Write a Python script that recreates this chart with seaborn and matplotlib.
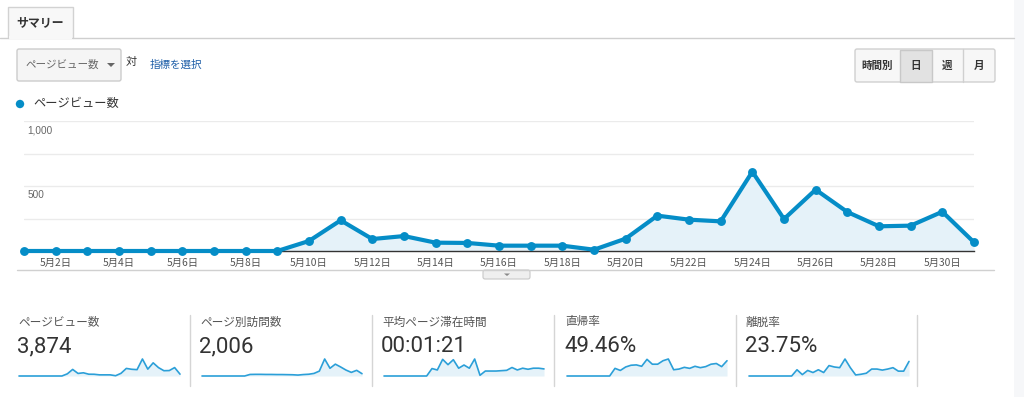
import numpy as np
import pandas as pd
import seaborn as sns
import matplotlib
matplotlib.use("Agg")
import matplotlib.pyplot as plt
from matplotlib.patches import Rectangle, FancyBboxPatch, Circle, Polygon

# ---------------- data ----------------
days = list(range(1, 32))
pageviews = [0, 0, 0, 0, 0, 0, 0, 0, 0, 77, 236, 92, 115, 64, 62, 41,
             41, 41, 10, 95, 272, 241, 228, 610, 246, 472, 300, 190, 195, 302, 67]
tick_days = [2, 4, 6, 8, 10, 12, 14, 16, 18, 20, 22, 24, 26, 28, 30]
tick_labels = ["5月2日", "5月4日", "5月6日", "5月8日", "5月10日", "5月12日", "5月14日",
               "5月16日", "5月18日", "5月20日", "5月22日", "5月24日", "5月26日",
               "5月28日", "5月30日"]
grid_values = [250, 500, 750, 1000]
y_label_values = [500, 1000]
y_labels = ["500", "1,000"]

metric_names = ["ページビュー数", "ページ別訪問数", "平均ページ滞在時間", "直帰率", "離脱率"]
metric_values = ["3,874", "2,006", "00:01:21", "49.46%", "23.75%"]

spark_unique = [0, 0, 0, 0, 0, 0, 0, 0, 0, 30, 32, 32, 30, 30, 28, 28, 26, 24,
                18, 28, 34, 50, 95, 330, 150, 230, 175, 115, 70, 110, 45]
spark_time = [0, 0, 0, 0, 0, 0, 0, 0, 0, 84, 68, 188, 128, 184, 88, 124, 88, 192,
              8, 56, 56, 56, 60, 64, 96, 68, 88, 76, 88, 88, 80]
spark_bounce = [0, 0, 0, 0, 0, 0, 0, 0, 0, 44, 32, 52, 62, 64, 56, 96, 68, 68,
                88, 98, 36, 40, 50, 44, 56, 48, 54, 68, 72, 54, 88]
spark_exit = [0, 0, 0, 0, 0, 0, 0, 0, 0, 18, 4, 16, 10, 18, 10, 30, 26, 24,
              49, 24, 3, 5, 8, 20, 20, 17, 20, 24, 14, 14, 42]
spark_series = [pageviews, spark_unique, spark_time, spark_bounce, spark_exit]

# ---------------- style ----------------
sns.set_style("white")
plt.rcParams["font.family"] = ["Noto Sans CJK JP", "DejaVu Sans"]

W, H = 1024, 397
fig = plt.figure(figsize=(W / 100, H / 100), dpi=100)
fig.patch.set_facecolor("white")


def rect(x, y, w, h):
    return [x / W, 1 - (y + h) / H, w / W, h / H]


# overlay in pixel coordinates
ov = fig.add_axes([0, 0, 1, 1], zorder=0)
ov.set_xlim(0, W)
ov.set_ylim(H, 0)
ov.axis("off")

BLUE = "#058dc7"
FILL = "#e5f2f9"

# right gray strip
ov.add_patch(Rectangle((1014, 0), 10, H, facecolor="#f6f7f9", edgecolor="none"))

# tab
ov.add_patch(Rectangle((8, 7), 65, 31, facecolor="#f8f8f8", edgecolor="#d2d2d2", lw=1))
ov.plot([0, 8], [38, 38], color="#cfcfcf", lw=1)
ov.plot([73, 1014], [38, 38], color="#cfcfcf", lw=1)
ov.add_patch(Rectangle((8.6, 36), 63.8, 3, facecolor="#f8f8f8", edgecolor="none"))
ov.text(40.5, 23, "サマリー", ha="center", va="center", fontsize=8.6,
        fontweight="bold", color="#333333")

# dropdown
ov.add_patch(FancyBboxPatch((17, 49), 104, 32, boxstyle="round,pad=0,rounding_size=2",
                            facecolor="#f5f5f5", edgecolor="#cccccc", lw=1))
ov.text(25, 65, "ページビュー数", ha="left", va="center", fontsize=7.6, color="#666666")
ov.add_patch(Polygon([[107, 63], [115, 63], [111, 67]], closed=True,
                     facecolor="#666666", edgecolor="none"))
ov.text(126, 62, "対", ha="left", va="center", fontsize=8, color="#333333")
ov.text(150, 65, "指標を選択", ha="left", va="center", fontsize=7.6, color="#1e5fa8")

# time buttons
ov.add_patch(FancyBboxPatch((855, 49), 140, 33, boxstyle="round,pad=0,rounding_size=2",
                            facecolor="#f7f7f7", edgecolor="#d0d0d0", lw=1))
ov.add_patch(Rectangle((900, 49.5), 32, 32, facecolor="#e2e2e2", edgecolor="#c8c8c8", lw=1))
for sx in [963]:
    ov.plot([sx, sx], [49, 82], color="#d0d0d0", lw=1)
for lbl, cx in [("時間別", 877.5), ("日", 916), ("週", 947.5), ("月", 979)]:
    ov.text(cx, 65.5, lbl, ha="center", va="center", fontsize=7.6,
            fontweight="bold", color="#333333")

# legend
ov.add_patch(Circle((20, 104), 4.2, facecolor=BLUE, edgecolor="none"))
ov.text(33, 104, "ページビュー数", ha="left", va="center", fontsize=8.8, color="#333333")

# bottom line & handle
ov.plot([17, 994], [270, 270], color="#d0d0d0", lw=1)
ov.add_patch(FancyBboxPatch((483, 270), 47, 9, boxstyle="round,pad=0,rounding_size=2",
                            facecolor="#efefef", edgecolor="#c8c8c8", lw=0.8))
ov.add_patch(Polygon([[504, 273.5], [510, 273.5], [507, 276]], closed=True,
                     facecolor="#888888", edgecolor="none"))

# metric separators
for sx in [190, 372, 554, 736, 917]:
    ov.plot([sx, sx], [315, 386], color="#d5d5d5", lw=1)

label_x = [18, 200, 382, 565, 746]
for name, val, lx in zip(metric_names, metric_values, label_x):
    ov.text(lx, 322, name, ha="left", va="center", fontsize=8.4, color="#555555")
    ov.text(lx - 1, 347, val, ha="left", va="center", fontsize=16,
            color="#333333", family=["Roboto", "DejaVu Sans"])

# ---------------- main chart ----------------
ax = fig.add_axes(rect(24, 121, 950, 130), zorder=2)
ax.patch.set_alpha(0)
ax.fill_between(days, pageviews, 0, color=FILL, lw=0)
sns.lineplot(x=days, y=pageviews, ax=ax, color=BLUE, lw=3.0, marker="o",
             markersize=6.4, markeredgewidth=0, clip_on=False, zorder=5)
ax.set_xlim(1, 31)
ax.set_ylim(0, 1000)
ax.set_yticks(grid_values)
ax.set_yticklabels([])
ax.yaxis.grid(True, color="#ebebeb", lw=1)
ax.xaxis.grid(False)
for s in ["top", "left", "right"]:
    ax.spines[s].set_visible(False)
ax.spines["bottom"].set_color("#333333")
ax.spines["bottom"].set_linewidth(1)
ax.set_xticks(tick_days)
ax.set_xticklabels(tick_labels)
ax.tick_params(axis="x", length=0, pad=5, labelsize=7.4, labelcolor="#555555")
ax.tick_params(axis="y", length=0)
ax.set_xlabel("")
ax.set_ylabel("")
for v, t in zip(y_label_values, y_labels):
    ax.annotate(t, xy=(0, v), xycoords=("axes fraction", "data"), xytext=(2.5, -3),
                textcoords="offset points", ha="left", va="top", fontsize=7.2,
                color="#666666", family=["Liberation Sans", "DejaVu Sans"])

# ---------------- sparklines ----------------
spark_x = [(19, 180), (202, 362), (384, 544), (567, 727), (749, 909)]
for (x0, x1), series in zip(spark_x, spark_series):
    sa = fig.add_axes(rect(x0, 359, x1 - x0, 17), zorder=2)
    sa.patch.set_alpha(0)
    sa.fill_between(days, series, 0, color=FILL, lw=0)
    sns.lineplot(x=days, y=series, ax=sa, color="#2b9fd8", lw=1.2, clip_on=False)
    sa.set_xlim(1, 31)
    sa.set_ylim(0, max(series))
    sa.axis("off")

fig.savefig("out.png", dpi=100)
